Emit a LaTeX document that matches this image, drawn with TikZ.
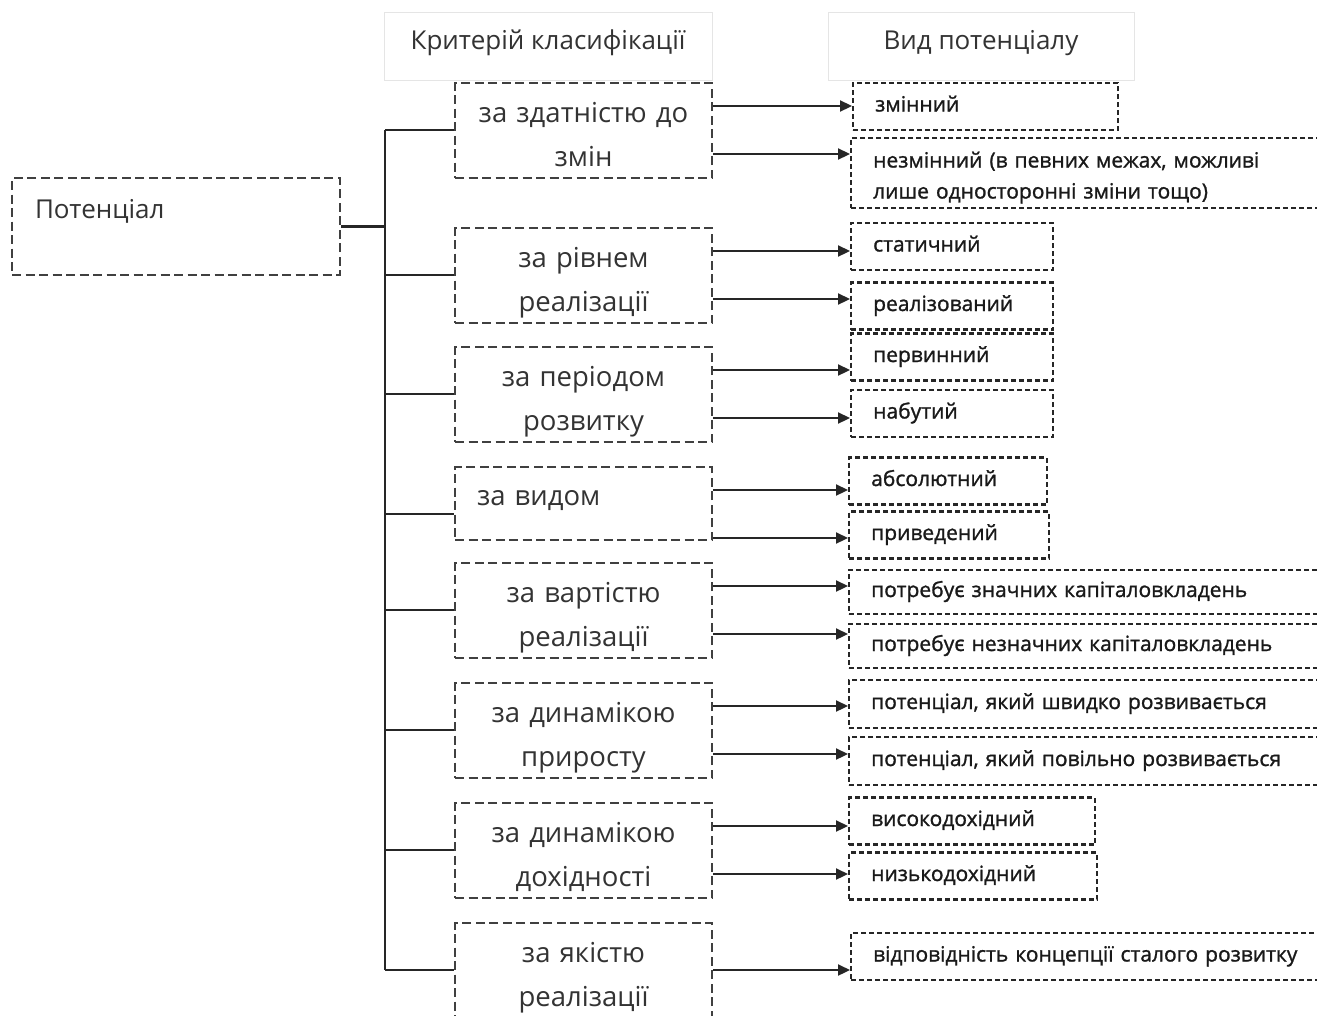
\documentclass[tikz,border=0pt]{standalone}
\usepackage{fontspec}
\setmainfont{Open Sans}
\newfontfamily\resfont[FakeBold=1.2]{Open Sans}
\usetikzlibrary{arrows.meta}
\begin{document}
\begin{tikzpicture}[x=1pt,y=-1pt,
  crit/.style={draw=black!75, line width=2pt, dash pattern=on 9pt off 4.5pt,
    minimum width=257pt, minimum height=95pt, inner sep=0pt, align=center, text width=245pt,
    text height=20pt, text depth=36.6pt,
    font=\fontsize{27.5}{44}\selectfont, text=black!80},
  res/.style={draw=black!85, line width=2.4pt, dash pattern=on 5pt off 3pt,
    anchor=west, inner xsep=22pt, inner ysep=0pt, align=left, minimum height=47pt,
    text height=15pt, text depth=5pt,
    font=\resfont\fontsize{21}{31}\selectfont, text=black!90},
  hdr/.style={draw=black!10, line width=1pt, inner sep=0pt,
    text height=20pt, text depth=14pt,
    font=\fontsize{26}{30}\selectfont, text=black!80},
  conn/.style={draw=black!85, line width=2.2pt},
  arr/.style={conn, -{Triangle[length=12pt,width=11pt]}}
]
\clip (0,0) rectangle (1317,1015);
\fill[white] (0,0) rectangle (1317,1015);

% headers
\node[hdr, minimum width=328pt, minimum height=68pt] (h1) at (548,46) {Критерій класифікації};
\node[hdr, minimum width=306pt, minimum height=68pt] (h2) at (981,46) {Вид потенціалу};

% root
\node[crit, minimum width=328pt, minimum height=97pt, align=left, text width=282pt,
  text height=19pt, text depth=36pt, font=\fontsize{26}{30}\selectfont] (pot) at (176,226.5) {Потенціал};

% criteria
\node[crit] (c1) at (583.5,130.5) {за здатністю до\\змін};
\node[crit] (c2) at (583.5,275.5) {за рівнем\\реалізації};
\node[crit] (c3) at (583.5,394.5) {за періодом\\розвитку};
\node[crit, minimum height=73pt, align=left, text width=213pt, text height=20pt, text depth=17pt] (c4) at (583.5,503.5) {за видом};
\node[crit] (c5) at (583.5,610.5) {за вартістю\\реалізації};
\node[crit] (c6) at (583.5,730.5) {за динамікою\\приросту};
\node[crit] (c7) at (583.5,850.5) {за динамікою\\дохідності};
\node[crit, minimum height=96pt] (c8) at (583.5,971) {за якістю\\реалізації};

% results
\node[res, text width=221pt] (r11) at (852,106.5) {змінний};
\node[res, text width=456pt, minimum height=70pt, text depth=26pt] (r12) at (850,173) {незмінний (в певних межах, можливі\\лише односторонні зміни тощо)};
\node[res, text width=158pt] (r21) at (850,246.5) {статичний};
\node[res, text width=158pt] (r22) at (850,306) {реалізований};
\node[res, text width=158pt] (r31) at (850,357) {первинний};
\node[res, text width=158pt] (r32) at (850,413.5) {набутий};
\node[res, text width=154pt] (r41) at (848,481) {абсолютний};
\node[res, text width=156pt] (r42) at (848,535) {приведений};
\node[res, text width=456pt, minimum height=44pt] (r51) at (848,592) {потребує значних капіталовкладень};
\node[res, text width=456pt, minimum height=44pt] (r52) at (848,646) {потребує незначних капіталовкладень};
\node[res, text width=456pt, minimum height=48pt] (r61) at (848,704) {потенціал, який швидко розвивається};
\node[res, text width=456pt, minimum height=48pt] (r62) at (848,761) {потенціал, який повільно розвивається};
\node[res, text width=202pt] (r71) at (848,821) {високодохідний};
\node[res, text width=204pt] (r72) at (848,876) {низькодохідний};
\node[res, text width=456pt] (r81) at (850,956.5) {відповідність концепції сталого розвитку};

% trunk
\foreach \i in {1,...,8}{
  \coordinate (b\i) at ([yshift=-48pt]c\i.north west);
}
\coordinate (t1) at ([xshift=-69pt]b1);
\draw[conn] (t1) -- (t1 |- b8);
\foreach \i in {1,...,8}{
  \draw[conn] (b\i -| t1) -- (b\i);
}
\draw[conn] (pot.east) -- (pot.east -| t1);

% arrows
\foreach \i in {1,...,7}{
  \coordinate (u\i) at ([yshift=-24pt]c\i.north east);
  \coordinate (l\i) at ([yshift=-72pt]c\i.north east);
}
\draw[arr] (u1) -- (u1 -| r11.west);
\draw[arr] (l1) -- (l1 -| r12.west);
\draw[arr] (u2) -- (u2 -| r21.west);
\draw[arr] (l2) -- (l2 -| r22.west);
\draw[arr] (u3) -- (u3 -| r31.west);
\draw[arr] (l3) -- (l3 -| r32.west);
\draw[arr] (u4) -- (u4 -| r41.west);
\draw[arr] (l4) -- (l4 -| r42.west);
\draw[arr] (u5) -- (u5 -| r51.west);
\draw[arr] (l5) -- (l5 -| r52.west);
\draw[arr] (u6) -- (u6 -| r61.west);
\draw[arr] (l6) -- (l6 -| r62.west);
\draw[arr] (u7) -- (u7 -| r71.west);
\draw[arr] (l7) -- (l7 -| r72.west);
\coordinate (m8) at ([yshift=-48pt]c8.north east);
\draw[arr] (m8) -- (m8 -| r81.west);
\end{tikzpicture}
\end{document}
